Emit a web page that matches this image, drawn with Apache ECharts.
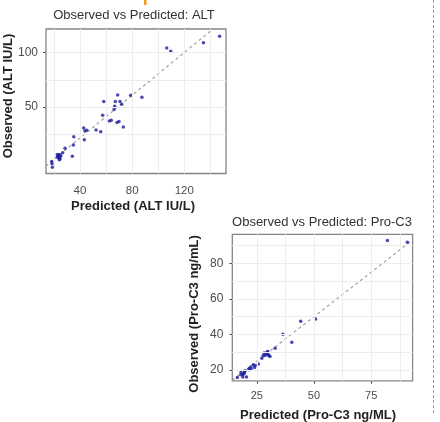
<!DOCTYPE html>
<html>
<head>
<meta charset="utf-8">
<script src="https://cdn.jsdelivr.net/npm/echarts@6/dist/echarts.min.js"></script>
<style>
html, body { margin: 0; padding: 0; background: #fff; }
#chart { width: 440px; height: 422px; }
</style>
</head>
<body>
<div id="chart"></div>
<script>
// ALT panel: predicted vs observed
var altPredicted = [106.5, 109.6, 134.7, 147.1, 68.9, 78.9, 87.5, 58.2, 67.1, 70.7, 72.0, 66.6, 66.1, 57.4,
    64.0, 62.5, 69.9, 68.4, 73.2, 42.8, 45.1, 43.8, 52.3, 55.9, 35.2, 43.3, 34.9, 28.5, 26.7, 22.6, 23.7,
    24.7, 23.4, 25.2, 23.9, 24.7, 22.6, 24.1, 34.1, 18.3, 18.5, 18.8];
var altObserved = [104.4, 101.3, 109.3, 115.2, 61.1, 60.8, 59.0, 55.0, 55.0, 55.0, 52.5, 50.6, 47.6, 42.3,
    37.7, 37.0, 36.5, 35.6, 31.5, 30.6, 28.4, 27.8, 28.7, 27.2, 22.6, 19.8, 14.8, 11.8, 7.8, 6.2, 5.9,
    5.6, 4.4, 4.4, 3.1, 1.9, 3.7, 1.3, 4.6, -0.3, -2.4, -5.6];
var altRefLine = [[13.7, -4.6], [142, 121.9]];
var altXTicks = [40, 80, 120];
var altXGrid = [20, 40, 60, 80, 100, 120, 140];
var altYTicks = [50, 100];
var altYGrid = [25, 50, 75, 100];

// Pro-C3 panel
var proPredicted = [82.1, 90.8, 50.7, 44.2, 36.4, 40.3, 33.0, 29.8, 28.2, 29.1, 30.2, 27.8, 28.6, 30.8,
    30.1, 29.5, 27.2, 25.7, 24.3, 23.5, 24.0, 22.4, 21.8, 21.6, 22.5, 19.9, 19.6, 18.1, 18.9, 18.0, 19.4,
    20.5, 18.9, 16.5];
var proObserved = [92.8, 91.8, 48.7, 47.5, 40.2, 35.7, 32.3, 30.5, 29.6, 29.0, 28.2, 28.2, 28.2, 27.6,
    28.6, 30.0, 26.6, 23.4, 22.6, 23.0, 21.5, 21.7, 21.1, 20.2, 20.6, 19.6, 18.7, 18.7, 17.5, 17.4, 17.9,
    16.1, 16.1, 15.8];
var proRefLine = [[14.3, 14.3], [93.1, 93.1]];
var proXTicks = [25, 50, 75];
var proXGrid = [25, 37.5, 50, 62.5, 75, 87.5];
var proYTicks = [20, 40, 60, 80];
var proYGrid = [20, 30, 40, 50, 60, 70, 80, 90];

function pairs(xs, ys) {
    var out = [];
    for (var i = 0; i < xs.length; i++) out.push([xs[i], ys[i]]);
    return out;
}

function gridLines(xs, ys) {
    var out = [];
    xs.forEach(function (v) { out.push({ xAxis: v }); });
    ys.forEach(function (v) { out.push({ yAxis: v }); });
    return out;
}

var FONT = '"Liberation Sans", Arial, sans-serif';

function axis(gridIndex, min, max, ticks, labelSize, margin) {
    return {
        type: 'value', gridIndex: gridIndex, min: min, max: max,
        axisLine: { show: false },
        axisTick: { show: true, customValues: ticks, length: 3, lineStyle: { color: '#555' } },
        axisLabel: { customValues: ticks, margin: margin, fontFamily: FONT, fontSize: labelSize, color: '#4d4d4d' },
        splitLine: { show: false }
    };
}

function gridSeries(xi, xs, ys) {
    return {
        type: 'scatter', xAxisIndex: xi, yAxisIndex: xi, data: [], z: 1, silent: true,
        markLine: {
            silent: true, symbol: 'none', animation: false,
            label: { show: false },
            lineStyle: { color: '#ededed', width: 1, type: 'solid' },
            emphasis: { disabled: true },
            data: gridLines(xs, ys)
        }
    };
}

function label(text, x, y, size, bold, vertical) {
    return {
        type: 'text', x: x, y: y, rotation: vertical ? Math.PI / 2 : 0,
        style: {
            text: text, fill: bold ? '#222' : '#333',
            font: (bold ? 'bold ' : '') + size + 'px ' + FONT,
            textAlign: 'center', textVerticalAlign: 'middle'
        }
    };
}

var chart = echarts.init(document.getElementById('chart'));

var option = {
    animation: false,
    grid: [
        { left: 46, top: 29, width: 180, height: 144.5, show: true, borderColor: '#858585', borderWidth: 1.3, backgroundColor: '#fff' },
        { left: 232.3, top: 234.3, width: 180.3, height: 146.5, show: true, borderColor: '#858585', borderWidth: 1.3, backgroundColor: '#fff' }
    ],
    xAxis: [
        axis(0, 13.9, 152, altXTicks, 11.5, 11),
        axis(1, 14.3, 93.1, proXTicks, 11, 10)
    ],
    yAxis: [
        axis(0, -11.4, 121.9, altYTicks, 12, 8),
        axis(1, 14, 96.3, proYTicks, 12, 9)
    ],
    series: [
        gridSeries(0, altXGrid, altYGrid),
        gridSeries(1, proXGrid, proYGrid),
        { type: 'line', xAxisIndex: 0, yAxisIndex: 0, data: altRefLine, showSymbol: false, silent: true,
          lineStyle: { color: '#a0a0a0', width: 1.2, type: [3, 3] }, z: 2 },
        { type: 'scatter', xAxisIndex: 0, yAxisIndex: 0, data: pairs(altPredicted, altObserved),
          symbolSize: 3.5, itemStyle: { color: '#1c1c9e', opacity: 0.8 }, z: 3 },
        { type: 'line', xAxisIndex: 1, yAxisIndex: 1, data: proRefLine, showSymbol: false, silent: true,
          lineStyle: { color: '#a0a0a0', width: 1.2, type: [3, 3] }, z: 2 },
        { type: 'scatter', xAxisIndex: 1, yAxisIndex: 1, data: pairs(proPredicted, proObserved),
          symbolSize: 3.5, itemStyle: { color: '#1c1c9e', opacity: 0.8 }, z: 3 }
    ],
    graphic: [
        label('Observed vs Predicted: ALT', 134, 15.5, 13, false, false),
        label('Observed vs Predicted: Pro-C3', 322, 222.5, 13, false, false),
        label('Predicted (ALT IU/L)', 133, 206, 13, true, false),
        label('Predicted (Pro-C3 ng/ML)', 318, 415.5, 13, true, false),
        label('Observed (ALT IU/L)', 8.5, 96, 13, true, true),
        label('Observed (Pro-C3 ng/mL)', 194, 314, 13, true, true),
        { type: 'rect', x: 144, y: 0, shape: { width: 2.5, height: 5 }, style: { fill: '#f59a1b' } },
        { type: 'line', shape: { x1: 433.5, y1: 0, x2: 433.5, y2: 413 },
          style: { stroke: '#9a9a9a', lineWidth: 1, lineDash: [3, 2] } }
    ]
};

chart.setOption(option);
</script>
</body>
</html>
